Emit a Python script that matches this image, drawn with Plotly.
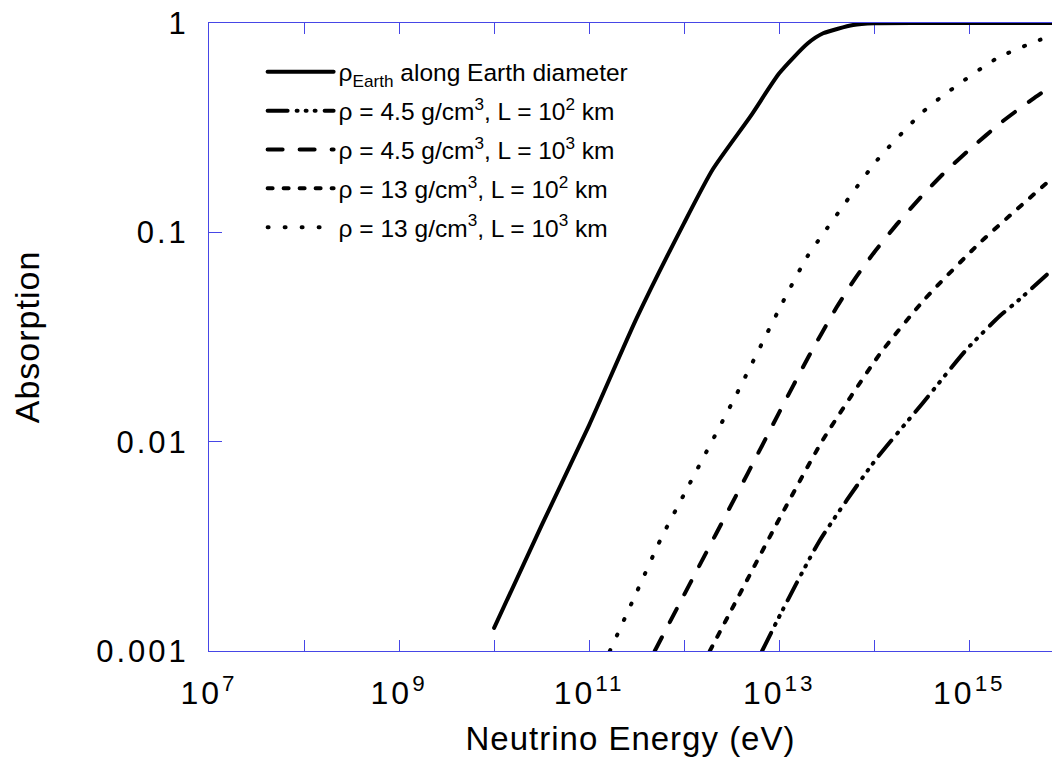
import plotly.graph_objects as go

# ---------------- data ----------------
# Earth-diameter absorption
E_earth = [1e10, 3.16e10, 1e11, 3.16e11, 1e12, 2e12, 5e12, 1e13, 2e13, 2.9e13, 6e13, 1e14, 3.16e14, 7.4e15]
A_earth = [0.00129, 0.00398, 0.0120, 0.0389, 0.111, 0.200, 0.359, 0.575, 0.800, 0.893, 0.978, 0.997, 1.0, 1.0]

# rho = 4.5 g/cm3, L = 1e2 km
E_45_2 = [6.6e12, 1.07e13, 2.69e13, 1.02e14, 3.16e14, 9.3e14, 2.09e15, 3.39e15, 7.4e15]
A_45_2 = [0.001, 0.00155, 0.00339, 0.00813, 0.0151, 0.0275, 0.0398, 0.0479, 0.0661]

# rho = 4.5 g/cm3, L = 1e3 km
E_45_3 = [4.9e11, 1e12, 4.68e12, 1e13, 2e13, 4e13, 6.3e13, 1e14, 1.78e14, 3.16e14,
          5.6e14, 1e15, 2.24e15, 4.6e15, 7.4e15]
A_45_3 = [0.001, 0.00186, 0.00708, 0.0138, 0.0251, 0.0437, 0.0603, 0.0804, 0.111, 0.149,
          0.195, 0.248, 0.339, 0.432, 0.501]

# rho = 13 g/cm3, L = 1e2 km
E_13_2 = [1.86e12, 3.16e12, 1e13, 2.88e13, 1.15e14, 3.39e14, 1.29e15, 7.4e15]
A_13_2 = [0.001, 0.00158, 0.00427, 0.0102, 0.0263, 0.0479, 0.0891, 0.181]

# rho = 13 g/cm3, L = 1e3 km
E_13_3 = [1.65e11, 3.16e11, 5.75e11, 1e12, 3.4e12, 1.1e13, 1.95e13, 3.16e13, 1.07e14, 3.16e14, 5.13e14, 1.95e15, 5.5e15, 7.4e15]
A_13_3 = [0.001, 0.00191, 0.00347, 0.00562, 0.0162, 0.0468, 0.0759, 0.104, 0.221, 0.372, 0.445, 0.678, 0.830, 0.861]

names = [
    "ρ<sub>Earth</sub> along Earth diameter",
    "ρ = 4.5 g/cm<sup>3</sup>, L = 10<sup>2</sup> km",
    "ρ = 4.5 g/cm<sup>3</sup>, L = 10<sup>3</sup> km",
    "ρ = 13 g/cm<sup>3</sup>, L = 10<sup>2</sup> km",
    "ρ = 13 g/cm<sup>3</sup>, L = 10<sup>3</sup> km",
]

x_tickvals = [1e7, 1e8, 1e9, 1e10, 1e11, 1e12, 1e13, 1e14, 1e15]
x_ticktext = ["10<sup>7</sup>", "", "10<sup>9</sup>", "", "10<sup>11</sup>", "",
              "10<sup>13</sup>", "", "10<sup>15</sup>"]
y_tickvals = [0.001, 0.01, 0.1, 1]
y_ticktext = ["0.001", "0.01", "0.1", "1"]

# ---------------- styles ----------------
FONT = "Liberation Sans, Arial, Helvetica, sans-serif"
AXC = "rgb(70,70,230)"
series = [
    (E_earth, A_earth, "solid"),
    (E_45_2, A_45_2, "20px,9px,1px,8px,1px,8px,1px,9px"),
    (E_45_3, A_45_3, "15px,17px"),
    (E_13_2, A_13_2, "5px,11px"),
    (E_13_3, A_13_3, "1px,16px"),
]

fig = go.Figure()
for i, ((xs, ys, dash), nm) in enumerate(zip(series, names)):
    fig.add_trace(go.Scatter(
        x=xs, y=ys, mode="lines", name=nm, legendgroup=f"g{i}",
        line=dict(color="black", width=4, dash=dash, shape="spline", smoothing=0.6),
    ))

fig.update_layout(
    width=1052, height=760,
    margin=dict(l=209, r=0, t=23, b=109),
    paper_bgcolor="white", plot_bgcolor="white",
    font=dict(family=FONT, color="black"),
    showlegend=True,
    legend=dict(
        x=0.0636, y=0.958, xanchor="left", yanchor="top",
        bgcolor="rgba(0,0,0,0)", borderwidth=0,
        font=dict(size=24.5, family=FONT, color="black"),
        itemwidth=66, tracegroupgap=4,
    ),
)
fig.update_xaxes(
    type="log", range=[7, 15.87],
    tickmode="array", tickvals=x_tickvals, ticktext=x_ticktext,
    ticks="inside", ticklen=11, tickcolor=AXC, tickwidth=1,
    showline=True, linecolor=AXC, linewidth=1, mirror="ticks",
    showgrid=False, zeroline=False, layer="below traces",
    tickfont=dict(size=32, family=FONT, color="black"),
    ticklabelstandoff=14,
    title=dict(text="Neutrino Energy (eV)", font=dict(size=33, family=FONT, color="black"), standoff=16),
)
fig.update_yaxes(
    type="log", range=[-3, 0],
    tickmode="array", tickvals=y_tickvals, ticktext=y_ticktext,
    ticks="inside", ticklen=13, tickcolor=AXC, tickwidth=1,
    showline=True, linecolor=AXC, linewidth=1, mirror=False,
    showgrid=False, zeroline=False, layer="below traces",
    tickfont=dict(size=31, family=FONT, color="black"),
    ticklabelstandoff=13,
    title=dict(text="Absorption", font=dict(size=34, family=FONT, color="black"), standoff=61),
)

# letter tracking and round line caps as in the reference rendering
css = (".xtick text{letter-spacing:3px}"
       ".ytick text{letter-spacing:3px}"
       ".xtitle,.ytitle{letter-spacing:1px}"
       ".scatterlayer .js-line,.legendlines path{stroke-linecap:round}")
post = ("var s=document.createElement('style');s.textContent='" + css +
        "';document.head.appendChild(s);")

fig.write_html("out.html", post_script=post)
